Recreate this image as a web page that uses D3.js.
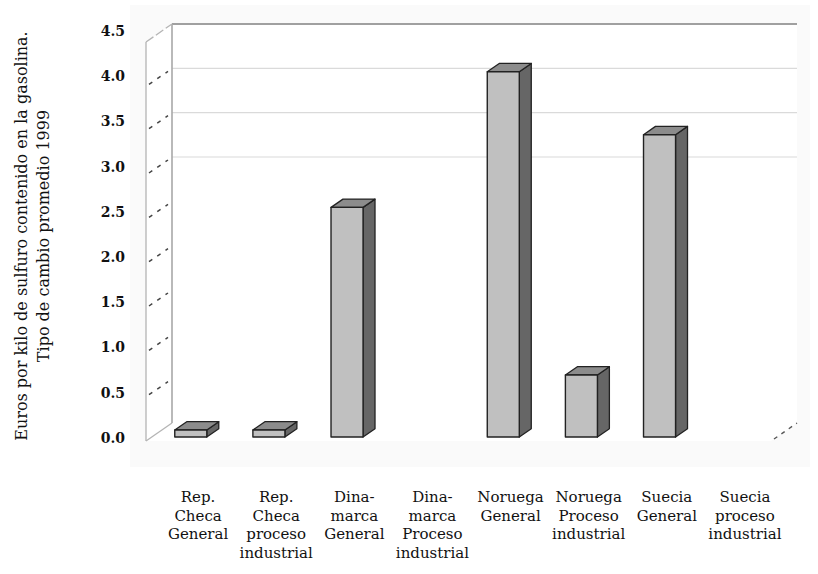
<!DOCTYPE html>
<html lang="es">
<head>
<meta charset="UTF-8">
<title>Euros por kilo de sulfuro</title>
<style>
  body { margin: 0; background: #fff; }
  svg { display: block; }
</style>
</head>
<body>
<svg id="chart" width="818" height="574"></svg>
<script src="https://cdn.jsdelivr.net/npm/d3@7/dist/d3.min.js"></script>
<script>
// categorias (una linea por renglon de la etiqueta)
var categories = [
  ['Rep.', 'Checa', 'General'],
  ['Rep.', 'Checa', 'proceso', 'industrial'],
  ['Dina-', 'marca', 'General'],
  ['Dina-', 'marca', 'Proceso', 'industrial'],
  ['Noruega', 'General'],
  ['Noruega', 'Proceso', 'industrial'],
  ['Suecia', 'General'],
  ['Suecia', 'proceso', 'industrial']
];
var values = [0.08, 0.08, 2.59, null, 4.12, 0.70, 3.41, null];
var yTicks = [0, 0.5, 1, 1.5, 2, 2.5, 3, 3.5, 4, 4.5];
var gridValues = [3, 3.5, 4];
var yTitle = ['Euros por kilo de sulfuro contenido en la gasolina.', 'Tipo de cambio promedio 1999'];

var svg = d3.select('#chart');

// profundidad del grafico 3D
var DX = 26, DY = -18;
var barFront = 0.22, barBack = 0.68;

var y = d3.scaleLinear().domain([0, 4.5]).range([441, 42]);
var yLab = d3.scaleLinear().domain([0, 4.5]).range([438, 31]);
var x = d3.scaleBand().domain(d3.range(categories.length)).range([146, 771]).paddingInner(0.59).paddingOuter(0.295);

function pt(px, py, d) { return [px + DX * d, py + DY * d]; }
var poly = function(pts) { return 'M' + pts.map(function(p) { return p.join(','); }).join('L') + 'Z'; };

// fondo
svg.append('rect').attr('x', 130).attr('y', 5).attr('width', 680).attr('height', 462).attr('fill', '#fafafa');

var x0 = 146, x1 = 771;
// pared del fondo
svg.append('path').attr('d', poly([pt(x0, y(4.5), 1), pt(x1, y(4.5), 1), pt(x1, y(0), 1), pt(x0, y(0), 1)]))
  .attr('fill', '#fff');
// pared izquierda y piso
svg.append('path').attr('d', poly([pt(x0, y(4.5), 0), pt(x0, y(4.5), 1), pt(x0, y(0), 1), pt(x0, y(0), 0)]))
  .attr('fill', '#fff');
svg.append('path').attr('d', poly([pt(x0, y(0), 0), pt(x0, y(0), 1), pt(x1, y(0), 1), pt(x1, y(0), 0)]))
  .attr('fill', '#fff');

// lineas de cuadricula
svg.append('g').selectAll('line').data(gridValues).enter().append('line')
  .attr('x1', pt(x0, 0, 1)[0]).attr('x2', pt(x1, 0, 1)[0])
  .attr('y1', function(d) { return pt(0, y(d), 1)[1]; })
  .attr('y2', function(d) { return pt(0, y(d), 1)[1]; })
  .attr('stroke', '#dadada').attr('stroke-width', 1.2);

// borde superior del fondo
svg.append('line')
  .attr('x1', pt(x0, 0, 1)[0]).attr('x2', pt(x1, 0, 1)[0])
  .attr('y1', pt(0, y(4.5), 1)[1]).attr('y2', pt(0, y(4.5), 1)[1])
  .attr('stroke', '#a0a0a0').attr('stroke-width', 2);

// bordes de la pared izquierda
var wall = svg.append('g').attr('fill', 'none');
wall.append('line').attr('x1', x0).attr('y1', y(4.5)).attr('x2', x0).attr('y2', y(0))
  .attr('stroke', '#b4b4b4').attr('stroke-width', 1.3);
wall.append('line').attr('x1', pt(x0, 0, 1)[0]).attr('y1', pt(0, y(4.5), 1)[1])
  .attr('x2', pt(x0, 0, 1)[0]).attr('y2', pt(0, y(0), 1)[1])
  .attr('stroke', '#a8a8a8').attr('stroke-width', 1.6);
wall.append('line').attr('x1', x0).attr('y1', y(0)).attr('x2', pt(x0, 0, 1)[0]).attr('y2', pt(0, y(0), 1)[1])
  .attr('stroke', '#b4b4b4').attr('stroke-width', 1.3);
wall.append('line').attr('x1', x0).attr('y1', y(4.5)).attr('x2', pt(x0, 0, 1)[0]).attr('y2', pt(0, y(4.5), 1)[1])
  .attr('stroke', '#b4b4b4').attr('stroke-width', 1.3).attr('stroke-dasharray', '9,3');

// marcas de division sobre la pared izquierda
wall.selectAll('line.tk').data(yTicks.slice(1, -1)).enter().append('line').attr('class', 'tk')
  .attr('x1', x0 + 3).attr('y1', function(d) { return y(d) - 2; })
  .attr('x2', pt(x0, 0, 1)[0] - 4).attr('y2', function(d) { return y(d) + DY + 3; })
  .attr('stroke', '#444').attr('stroke-width', 1.5).attr('stroke-dasharray', '4,6');

// piso: arista derecha
svg.append('line').attr('x1', x1 + 3).attr('y1', y(0) - 2).attr('x2', pt(x1, 0, 1)[0]).attr('y2', pt(0, y(0), 1)[1])
  .attr('stroke', '#555').attr('stroke-width', 1.4).attr('stroke-dasharray', '4,5');

// etiquetas del eje y
svg.append('g').selectAll('text').data(yTicks).enter().append('text')
  .attr('x', 125).attr('y', function(d) { return yLab(d); })
  .attr('dy', '0.35em').attr('text-anchor', 'end')
  .attr('font-family', 'DejaVu Serif').attr('font-weight', 'bold').attr('font-size', 14)
  .attr('fill', '#111')
  .text(function(d) { return d.toFixed(1); });

// barras 3D
var bars = svg.append('g').selectAll('g').data(values.map(function(v, i) { return { v: v, i: i }; })
  .filter(function(d) { return d.v !== null; })).enter().append('g');

function faces(d) {
  var l = x(d.i), r = x(d.i) + x.bandwidth(), t = y(d.v), b = y(0);
  return {
    front: [pt(l, t, barFront), pt(r, t, barFront), pt(r, b, barFront), pt(l, b, barFront)],
    side: [pt(r, t, barFront), pt(r, t, barBack), pt(r, b, barBack), pt(r, b, barFront)],
    top: [pt(l, t, barFront), pt(l, t, barBack), pt(r, t, barBack), pt(r, t, barFront)]
  };
}
bars.append('path').attr('d', function(d) { return poly(faces(d).side); })
  .attr('fill', '#666').attr('stroke', '#222').attr('stroke-width', 1.3).attr('stroke-linejoin', 'round');
bars.append('path').attr('d', function(d) { return poly(faces(d).top); })
  .attr('fill', '#8c8c8c').attr('stroke', '#222').attr('stroke-width', 1.3).attr('stroke-linejoin', 'round');
bars.append('path').attr('d', function(d) { return poly(faces(d).front); })
  .attr('fill', '#c0c0c0').attr('stroke', '#222').attr('stroke-width', 1.4).attr('stroke-linejoin', 'round');

// etiquetas de categorias
var cat = svg.append('g').attr('font-family', 'DejaVu Serif').attr('font-size', 15)
  .attr('fill', '#111').attr('text-anchor', 'middle');
cat.selectAll('text').data(categories).enter().append('text')
  .attr('transform', function(d, i) { return 'translate(' + (x(i) + x.bandwidth() / 2 + DX / 2) + ',502)'; })
  .selectAll('tspan').data(function(d) { return d; }).enter().append('tspan')
  .attr('x', 0).attr('y', function(d, j) { return j * 18.7; })
  .text(function(d) { return d; });

// titulo del eje y
svg.append('g').attr('transform', 'translate(0,236) rotate(-90)')
  .selectAll('text').data(yTitle).enter().append('text')
  .attr('x', 0).attr('y', function(d, i) { return 27 + i * 22; })
  .attr('text-anchor', 'middle')
  .attr('font-family', 'DejaVu Serif').attr('font-size', 16).attr('fill', '#111')
  .text(function(d) { return d; });
</script>
</body>
</html>
